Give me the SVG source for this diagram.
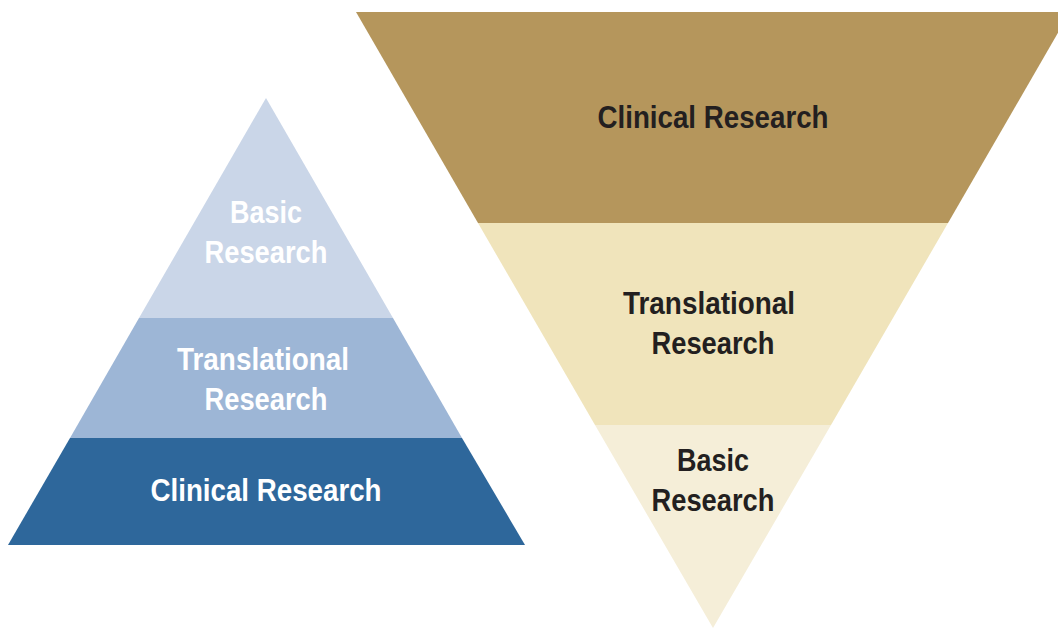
<svg xmlns="http://www.w3.org/2000/svg" width="1058" height="629" viewBox="0 0 1058 629">
<style>
text{font-family:"Liberation Sans Narrow","Liberation Sans",Arial,sans-serif;font-weight:bold;font-size:32px;text-anchor:middle}
.w{fill:#ffffff}
.d{fill:#231f20}
</style>
<rect width="1058" height="629" fill="#ffffff"/>
<g id="left-basic">
<polygon points="266,98 393,318 139,318" fill="#cad6e8"/>
<text class="w" x="266" y="223" textLength="72" lengthAdjust="spacingAndGlyphs">Basic</text>
<text class="w" x="266" y="263" textLength="123" lengthAdjust="spacingAndGlyphs">Research</text>
</g>
<g id="left-translational">
<polygon points="139,318 393,318 462,438 70,438" fill="#9db6d6"/>
<text class="w" x="263" y="370" textLength="172" lengthAdjust="spacingAndGlyphs">Translational</text>
<text class="w" x="266" y="410" textLength="123" lengthAdjust="spacingAndGlyphs">Research</text>
</g>
<g id="left-clinical">
<polygon points="70,438 462,438 525,545 8,545" fill="#2e679b"/>
<text class="w" x="266" y="501" textLength="231" lengthAdjust="spacingAndGlyphs">Clinical Research</text>
</g>
<g id="right-clinical">
<polygon points="356,12 1070,12 948,223 478,223" fill="#b5965c"/>
<text class="d" x="713" y="128" textLength="231" lengthAdjust="spacingAndGlyphs">Clinical Research</text>
</g>
<g id="right-translational">
<polygon points="478,223 948,223 831,425 595,425" fill="#f0e4bb"/>
<text class="d" x="709" y="314" textLength="172" lengthAdjust="spacingAndGlyphs">Translational</text>
<text class="d" x="713" y="354" textLength="123" lengthAdjust="spacingAndGlyphs">Research</text>
</g>
<g id="right-basic">
<polygon points="595,425 831,425 713,628" fill="#f5eed8"/>
<text class="d" x="713" y="471" textLength="72" lengthAdjust="spacingAndGlyphs">Basic</text>
<text class="d" x="713" y="511" textLength="123" lengthAdjust="spacingAndGlyphs">Research</text>
</g>
<g id="connectors"></g>
</svg>
